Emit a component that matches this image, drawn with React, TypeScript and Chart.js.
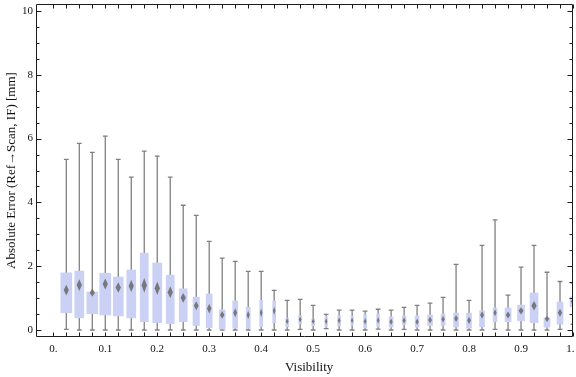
import { useEffect, useRef } from "react";
import { Chart, registerables } from "chart.js";
Chart.register(...registerables);

const visibility = [0.025, 0.05, 0.075, 0.1, 0.125, 0.15, 0.175, 0.2, 0.225, 0.25, 0.275, 0.3, 0.325, 0.35, 0.375, 0.4, 0.425, 0.45, 0.475, 0.5, 0.525, 0.55, 0.575, 0.6, 0.625, 0.65, 0.675, 0.7, 0.725, 0.75, 0.775, 0.8, 0.825, 0.85, 0.875, 0.9, 0.925, 0.95, 0.975, 1.0];
const minErr = [0.02, 0, 0, 0, 0, 0, 0, 0, 0, 0, 0, 0, 0, 0, 0, 0, 0, 0, 0.02, 0, 0.04, 0, 0, 0, 0.03, 0, 0.02, 0, 0, 0, 0, 0, 0, 0.02, 0, 0, 0, 0, 0.02, 0.18];
const q1Err = [0.54, 0.38, 0.51, 0.47, 0.44, 0.38, 0.26, 0.23, 0.2, 0.26, 0.14, 0.07, 0.03, 0.06, 0.05, 0.1, 0.23, 0.1, 0.2, 0.13, 0.09, 0.13, 0.15, 0.07, 0.1, 0.09, 0.17, 0.09, 0.14, 0.14, 0.09, 0.06, 0.1, 0.26, 0.26, 0.29, 0.23, 0.09, 0.18, 0.73];
const medianErr = [1.25, 1.41, 1.17, 1.44, 1.33, 1.38, 1.4, 1.31, 1.18, 1.01, 0.76, 0.67, 0.47, 0.54, 0.47, 0.54, 0.6, 0.27, 0.33, 0.27, 0.27, 0.3, 0.3, 0.27, 0.3, 0.26, 0.3, 0.26, 0.31, 0.34, 0.36, 0.3, 0.47, 0.54, 0.47, 0.6, 0.76, 0.35, 0.54, 0.89];
const q3Err = [1.79, 1.85, 1.19, 1.78, 1.66, 1.88, 2.41, 2.1, 1.72, 1.29, 1.03, 1.13, 0.63, 0.91, 0.71, 0.93, 0.91, 0.37, 0.44, 0.34, 0.42, 0.45, 0.43, 0.47, 0.5, 0.41, 0.44, 0.44, 0.47, 0.5, 0.53, 0.53, 0.6, 0.69, 0.69, 0.78, 1.16, 0.38, 0.88, 1.04];
const maxErr = [5.35, 5.85, 5.57, 6.08, 5.35, 4.79, 5.61, 5.45, 4.79, 3.91, 3.59, 2.78, 2.25, 2.15, 1.84, 1.84, 1.24, 0.93, 0.96, 0.77, 0.49, 0.62, 0.62, 0.59, 0.65, 0.62, 0.71, 0.77, 0.84, 1.02, 2.06, 0.93, 2.65, 3.45, 1.09, 1.97, 2.65, 1.81, 1.52, 1.47];
// relative sample count per bin (drives box width)
const relativeCount = [1.0, 0.82, 1.0, 1.0, 0.91, 0.82, 0.73, 0.82, 0.73, 0.73, 0.59, 0.55, 0.55, 0.45, 0.36, 0.27, 0.27, 0.27, 0.27, 0.27, 0.23, 0.27, 0.23, 0.27, 0.27, 0.36, 0.36, 0.36, 0.45, 0.36, 0.45, 0.45, 0.45, 0.36, 0.55, 0.64, 0.73, 0.55, 0.55, 0.55];

const xTickValues = [0, 0.1, 0.2, 0.3, 0.4, 0.5, 0.6, 0.7, 0.8, 0.9, 1.0];
const xTickLabels = ["0.", "0.1", "0.2", "0.3", "0.4", "0.5", "0.6", "0.7", "0.8", "0.9", "1."];
const yTickValues = [0, 2, 4, 6, 8, 10];
const yTickLabels = ["0", "2", "4", "6", "8", "10"];
const xTitle = "Visibility";
const yTitle = "Absolute Error (Ref\u2192Scan, IF) [mm]";

const X_MIN = -0.0333;
const X_MAX = 1.0;
const Y_MIN = -0.22;
const Y_MAX = 10.22;
const MAX_BOX_W = 11;

const FONT = "'Liberation Serif', 'Times New Roman', serif";

const boxPlugin = {
  id: "boxExtras",
  afterDatasetsUpdate(chart: any) {
    const meta = chart.getDatasetMeta(0);
    meta.data.forEach((el: any, i: number) => {
      el.width = relativeCount[i] * MAX_BOX_W;
    });
  },
  beforeDatasetsDraw(chart: any) {
    const { ctx, chartArea, scales } = chart;
    const xs = scales.x;
    const ys = scales.y;
    ctx.save();
    ctx.beginPath();
    ctx.rect(chartArea.left, chartArea.top, chartArea.right - chartArea.left, chartArea.bottom - chartArea.top);
    ctx.clip();
    ctx.strokeStyle = "#808080";
    ctx.lineWidth = 1.3;
    for (let i = 0; i < visibility.length; i++) {
      const x = xs.getPixelForValue(visibility[i]);
      const yMin = ys.getPixelForValue(minErr[i]);
      const yMax = ys.getPixelForValue(maxErr[i]);
      ctx.beginPath();
      ctx.moveTo(x, yMin);
      ctx.lineTo(x, yMax);
      ctx.moveTo(x - 2.4, yMin);
      ctx.lineTo(x + 2.4, yMin);
      ctx.moveTo(x - 2.4, yMax);
      ctx.lineTo(x + 2.4, yMax);
      ctx.stroke();
    }
    ctx.restore();
  },
  afterDatasetsDraw(chart: any) {
    const { ctx, chartArea, scales } = chart;
    const xs = scales.x;
    const ys = scales.y;
    ctx.save();
    ctx.beginPath();
    ctx.rect(chartArea.left, chartArea.top, chartArea.right - chartArea.left, chartArea.bottom - chartArea.top);
    ctx.clip();
    ctx.fillStyle = "rgba(112,112,112,0.92)";
    ctx.filter = "blur(0.5px)";
    for (let i = 0; i < visibility.length; i++) {
      const x = xs.getPixelForValue(visibility[i]);
      const y = ys.getPixelForValue(medianErr[i]);
      const iqr = q3Err[i] - q1Err[i];
      const w = relativeCount[i] * MAX_BOX_W;
      const hh = 2.5 + 2.3 * iqr;
      const hw = Math.min(2.6, 0.3 * w + 0.4);
      ctx.beginPath();
      ctx.moveTo(x, y - hh);
      ctx.lineTo(x + hw, y);
      ctx.lineTo(x, y + hh);
      ctx.lineTo(x - hw, y);
      ctx.closePath();
      ctx.fill();
    }
    ctx.restore();
  },
  afterDraw(chart: any) {
    const { ctx, chartArea, scales, width } = chart;
    const xs = scales.x;
    const ys = scales.y;
    const L = Math.round(chartArea.left) + 0.5;
    const R = Math.round(chartArea.right) - 0.5;
    const T = Math.round(chartArea.top) + 0.5;
    const B = Math.round(chartArea.bottom) - 0.5;
    ctx.save();
    ctx.strokeStyle = "#1c1c1c";
    ctx.lineWidth = 1;
    ctx.beginPath();
    ctx.rect(L, T, R - L, B - T);
    ctx.stroke();
    ctx.beginPath();
    for (let k = 0; k <= 40; k++) {
      const px = Math.round(xs.getPixelForValue(k * 0.025)) + 0.5;
      ctx.moveTo(px, B);
      ctx.lineTo(px, B - 4);
      ctx.moveTo(px, T);
      ctx.lineTo(px, T + 4);
    }
    for (let k = 0; k <= 20; k++) {
      const py = Math.round(ys.getPixelForValue(k * 0.5)) + 0.5;
      const len = k % 4 === 0 ? 5 : 3;
      ctx.moveTo(L, py);
      ctx.lineTo(L + len, py);
      ctx.moveTo(R, py);
      ctx.lineTo(R - len, py);
    }
    ctx.stroke();

    // x tick labels (kept inside the canvas like the original)
    ctx.fillStyle = "#111";
    ctx.font = `11px ${FONT}`;
    ctx.textAlign = "center";
    ctx.textBaseline = "middle";
    xTickValues.forEach((v, i) => {
      const label = xTickLabels[i];
      const tw = ctx.measureText(label).width;
      let px = xs.getPixelForValue(v);
      px = Math.min(px, width - tw / 2 - 1.5);
      ctx.fillText(label, px, chartArea.bottom + 12);
    });

    // axis titles
    ctx.font = `13px ${FONT}`;
    ctx.textAlign = "center";
    ctx.textBaseline = "middle";
    ctx.fillText(xTitle, xs.getPixelForValue(0.5) - 4, 368);
    ctx.save();
    ctx.translate(12, (chartArea.top + chartArea.bottom) / 2);
    ctx.rotate(-Math.PI / 2);
    ctx.fillText(yTitle, 0, 0);
    ctx.restore();
    ctx.restore();
  },
};

export default function App() {
  const canvasRef = useRef<HTMLCanvasElement | null>(null);

  useEffect(() => {
    const canvas = canvasRef.current;
    if (!canvas) return;
    const chart = new Chart(canvas, {
      type: "bar",
      data: {
        datasets: [
          {
            data: visibility.map((v, i) => ({ x: v, y: [q1Err[i], q3Err[i]] })) as any,
            backgroundColor: "rgb(202,209,245)",
            borderWidth: 0,
            barThickness: MAX_BOX_W,
          },
        ],
      },
      options: {
        animation: false,
        responsive: false,
        devicePixelRatio: 1,
        layout: { padding: { top: 4, right: 3, left: 0, bottom: 0 }, autoPadding: false } as any,
        plugins: { legend: { display: false }, tooltip: { enabled: false } },
        scales: {
          x: {
            type: "linear",
            min: X_MIN,
            max: X_MAX,
            offset: false,
            grid: { display: false, drawTicks: false, tickLength: 0 },
            border: { display: false },
            afterBuildTicks: (scale: any) => {
              scale.ticks = xTickValues.map((v) => ({ value: v }));
            },
            afterFit: (scale: any) => {
              scale.height = 40;
              scale.paddingLeft = 0;
              scale.paddingRight = 0;
            },
            ticks: { display: false },
          },
          y: {
            type: "linear",
            min: Y_MIN,
            max: Y_MAX,
            grid: { display: false, drawTicks: false, tickLength: 0 },
            border: { display: false },
            afterBuildTicks: (scale: any) => {
              scale.ticks = yTickValues.map((v) => ({ value: v }));
            },
            afterFit: (scale: any) => {
              scale.width = 36;
              scale.paddingTop = 0;
              scale.paddingBottom = 0;
            },
            ticks: {
              autoSkip: false,
              padding: 3,
              color: "#111",
              font: { family: FONT, size: 11 },
              callback: (v: any) => {
                const idx = yTickValues.findIndex((t) => Math.abs(t - Number(v)) < 1e-6);
                return idx >= 0 ? yTickLabels[idx] : "";
              },
            },
          },
        },
      },
      plugins: [boxPlugin],
    });
    return () => chart.destroy();
  }, []);

  return (
    <div style={{ position: "absolute", left: 0, top: 0, width: 576, height: 377, background: "#fff" }}>
      <canvas ref={canvasRef} width={576} height={377} style={{ display: "block", width: 576, height: 377 }} />
    </div>
  );
}
